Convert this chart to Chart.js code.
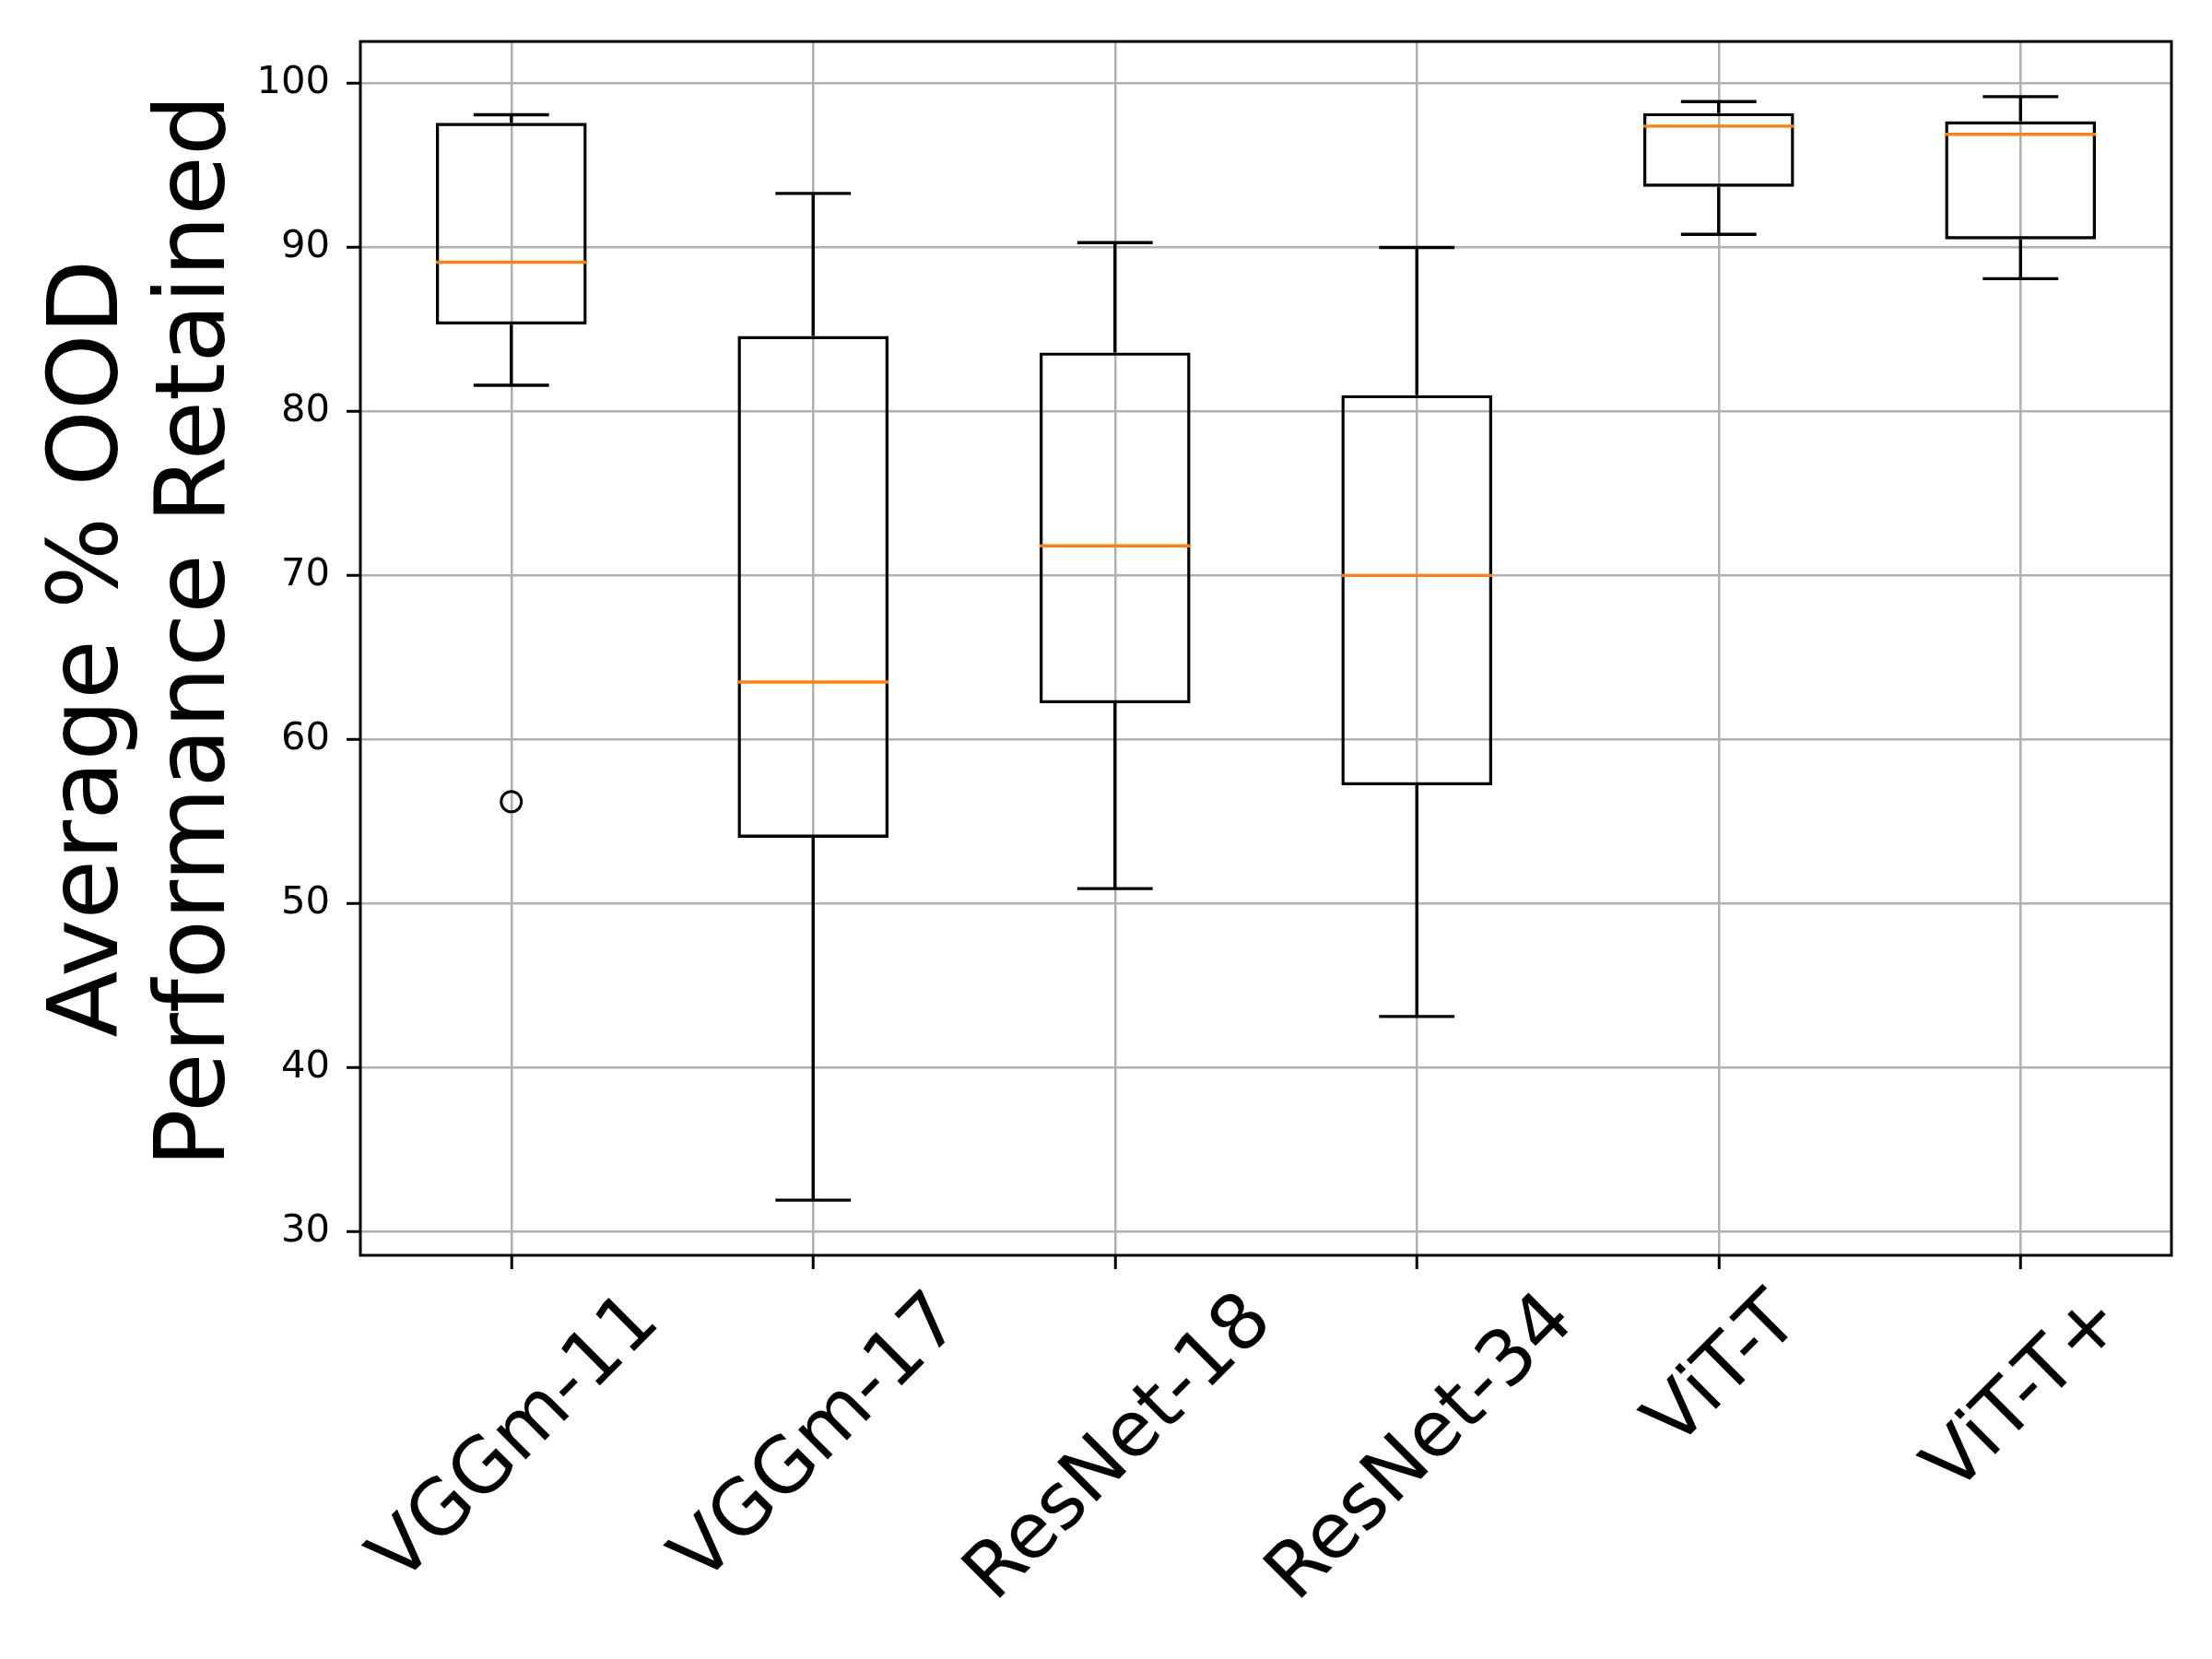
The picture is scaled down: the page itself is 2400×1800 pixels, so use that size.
<!DOCTYPE html>
<html>
<head>
<meta charset="utf-8">
<script src="https://cdn.jsdelivr.net/npm/chart.js@4.4.1/dist/chart.umd.min.js"></script>
<style>
    html, body { margin: 0; padding: 0; background: #fff; }
    #grafico { display: block; }
</style>
</head>
<body>
<canvas id="grafico" width="2400" height="1800" style="width:2400px;height:1800px"></canvas>
<script>
const modelos = ['VGGm-11', 'VGGm-17', 'ResNet-18', 'ResNet-34', 'ViT-T', 'ViT-T+'];
const minimos = [81.6, 31.9, 50.9, 43.1, 90.8, 88.1];
const quartil1 = [85.3, 54.0, 62.2, 57.2, 93.7, 90.5];
const medianas = [89.1, 63.5, 71.8, 70.0, 97.4, 96.9];
const quartil3 = [97.6, 84.6, 83.6, 81.0, 98.2, 97.7];
const maximos = [98.1, 93.3, 90.3, 90.0, 98.9, 99.2];
const atipicos = [56.2, null, null, null, null, null];
const yTicks = [30, 40, 50, 60, 70, 80, 90, 100];
const tituloY = ['Average % OOD', 'Performance Retained'];

// limites do eixo y como no matplotlib (margem de 5%)
const todos = minimos.concat(maximos, atipicos.filter(v => v !== null));
const menor = Math.min(...todos);
const maior = Math.max(...todos);
const margem = (maior - menor) * 0.05;

const FONTE = '"DejaVu Sans", "Liberation Sans", sans-serif';

const desenhaBoxplot = {
    id: 'desenhaBoxplot',
    afterDatasetsDraw(chart) {
        const ctx = chart.ctx;
        const x = chart.scales.x;
        const y = chart.scales.y;
        const larguraCat = x.width / modelos.length;
        const meiaCaixa = larguraCat * 0.25;
        const meioCap = larguraCat * 0.125;

        ctx.save();
        modelos.forEach((m, i) => {
            const cx = x.getPixelForValue(i);
            const yMin = y.getPixelForValue(minimos[i]);
            const yMax = y.getPixelForValue(maximos[i]);
            const yQ1 = y.getPixelForValue(quartil1[i]);
            const yQ3 = y.getPixelForValue(quartil3[i]);
            const yMed = y.getPixelForValue(medianas[i]);

            ctx.strokeStyle = '#000';
            ctx.lineWidth = 3.4;
            ctx.beginPath();
            ctx.moveTo(cx, yQ1); ctx.lineTo(cx, yMin);
            ctx.moveTo(cx, yQ3); ctx.lineTo(cx, yMax);
            ctx.moveTo(cx - meioCap, yMin); ctx.lineTo(cx + meioCap, yMin);
            ctx.moveTo(cx - meioCap, yMax); ctx.lineTo(cx + meioCap, yMax);
            ctx.stroke();

            ctx.strokeStyle = '#ff7f0e';
            ctx.lineWidth = 3.4;
            ctx.beginPath();
            ctx.moveTo(cx - meiaCaixa, yMed); ctx.lineTo(cx + meiaCaixa, yMed);
            ctx.stroke();
        });

        // moldura completa
        const a = chart.chartArea;
        ctx.strokeStyle = '#000';
        ctx.lineWidth = 3;
        ctx.strokeRect(a.left, a.top, a.right - a.left, a.bottom - a.top);
        ctx.restore();
    },
    afterDraw(chart) {
        const ctx = chart.ctx;
        const x = chart.scales.x;
        const a = chart.chartArea;

        // rótulos do eixo x girados 45 graus, centrados no tick
        const tamanho = 83;
        const topo = a.bottom + 15 + 16;
        ctx.save();
        ctx.font = tamanho + 'px ' + FONTE;
        ctx.fillStyle = '#000';
        ctx.textAlign = 'center';
        ctx.textBaseline = 'alphabetic';
        modelos.forEach((m, i) => {
            const w = ctx.measureText(m).width;
            const alturaCap = tamanho * 0.729;
            const lado = (w + alturaCap) / Math.SQRT2;
            ctx.save();
            ctx.translate(x.getPixelForValue(i), topo + lado / 2);
            ctx.rotate(-Math.PI / 4);
            ctx.fillText(m, 0, alturaCap / 2);
            ctx.restore();
        });

        // título do eixo y em duas linhas
        const centro = (a.top + a.bottom) / 2;
        ctx.font = '105px ' + FONTE;
        const linhas = [{ base: 127, dy: 0 }, { base: 243, dy: -19 }];
        tituloY.forEach((t, k) => {
            ctx.save();
            ctx.translate(linhas[k].base, centro + linhas[k].dy);
            ctx.rotate(-Math.PI / 2);
            ctx.fillText(t, 0, 0);
            ctx.restore();
        });
        ctx.restore();
    }
};

const ctx = document.getElementById('grafico').getContext('2d');

new Chart(ctx, {
    type: 'bar',
    data: {
        labels: modelos,
        datasets: [
            {
                label: 'caixas',
                data: quartil1.map((q, i) => [q, quartil3[i]]),
                backgroundColor: 'rgba(0,0,0,0)',
                borderColor: '#000',
                borderWidth: 3.4,
                borderSkipped: false,
                barPercentage: 0.5,
                categoryPercentage: 1.0
            },
            {
                type: 'line',
                label: 'atipicos',
                data: atipicos,
                showLine: false,
                pointStyle: 'circle',
                pointRadius: 11,
                pointBorderWidth: 3,
                pointBorderColor: '#000',
                pointBackgroundColor: 'rgba(0,0,0,0)'
            }
        ]
    },
    options: {
        responsive: false,
        animation: false,
        devicePixelRatio: 1,
        layout: { padding: { top: 45, right: 44, left: 0, bottom: 0 } },
        plugins: {
            legend: { display: false },
            tooltip: { enabled: false }
        },
        scales: {
            x: {
                type: 'category',
                offset: true,
                grid: {
                    offset: false,
                    color: '#b0b0b0',
                    lineWidth: 2.5,
                    drawTicks: true,
                    tickLength: 15,
                    tickWidth: 3,
                    tickColor: '#000'
                },
                border: { display: false },
                ticks: { display: false },
                afterFit: s => { s.height = 1800 - 1362; }
            },
            y: {
                min: menor - margem,
                max: maior + margem,
                afterBuildTicks: s => { s.ticks = yTicks.map(v => ({ value: v })); },
                grid: {
                    color: '#b0b0b0',
                    lineWidth: 2.5,
                    drawTicks: true,
                    tickLength: 15,
                    tickWidth: 3,
                    tickColor: '#000'
                },
                border: { display: false },
                ticks: {
                    color: '#000',
                    padding: 18,
                    font: { family: FONTE, size: 41.7 }
                },
                title: { display: false },
                afterFit: s => { s.width = 391; }
            }
        }
    },
    plugins: [desenhaBoxplot]
});
</script>
</body>
</html>
